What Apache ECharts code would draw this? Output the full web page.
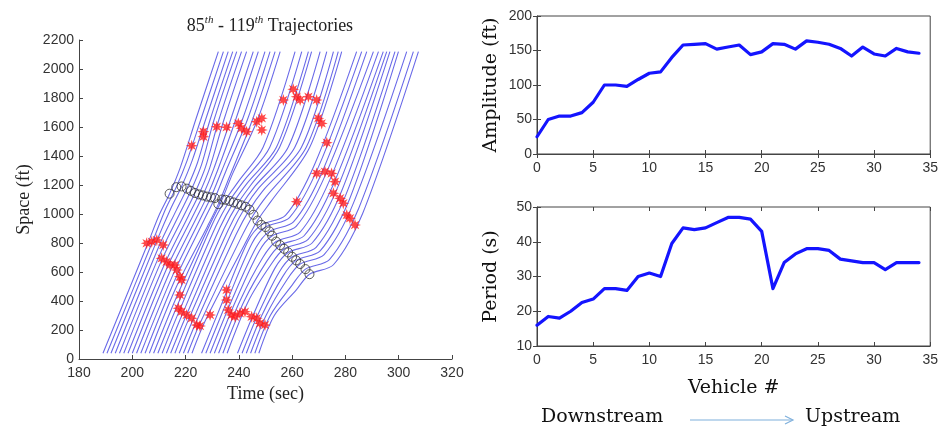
<!DOCTYPE html>
<html>
<head>
<meta charset="utf-8">
<script src="https://cdn.jsdelivr.net/npm/echarts@6/dist/echarts.min.js"></script>
<style>
html,body{margin:0;padding:0;background:#fff;}
#c{width:941px;height:433px;}
</style>
</head>
<body>
<div id="c"></div>
<script>
// ---------------- Left panel: vehicle trajectories (time in s, space in ft) ----------------
const START_S = 40;
const END_S = 2120;
const startT = [189.0,190.5,192.0,193.6,195.2,196.8,198.4,200.0,201.6,203.2,204.8,206.4,208.0,
  209.6,211.2,212.8,214.4,216.0,217.6,219.2,220.8,222.4,
  226.0,227.6,229.2,230.8,232.4,234.0,235.6,239.5,241.2,242.8,244.4,246.0,247.5];
const lowT = [205.9,207.6,209.3,210.3,210.3,211.0,212.0,213.3,214.3,215.0,216.0,216.6,216.9,
  216.7,217.6,218.7,220.0,221.3,222.3,223.5,225.0,227.3,
  234.0,235.6,237.2,238.8,240.4,242.0,243.6,245.3,247.0,248.6,250.2,251.8,253.3];
const lowS = [800,810,820,790,720,680,650,640,610,570,545,500,440,
  360,330,305,290,280,250,235,230,260,
  400,400,400,400,400,400,400,300,300,300,300,300,300];
const preT = [210.0,212.5,214.5,216.5,218.0,219.5,221.0,222.5,224.0,225.5,227.0,228.3,229.7,
  230.0,231.5,233.0,234.5,236.0,237.5,239.0,240.5,242.0,
  243.5,245.0,246.5,247.5,249.0,250.5,252.0,253.5,255.0,256.5,258.0,260.0,261.5];
const preS = [990,1035,1040,1025,1010,995,985,978,970,965,960,918,950,
  928,920,910,900,890,880,860,825,785,
  815,800,770,740,700,675,650,625,595,570,545,510,475];
const circT = [214.0,216.5,218.5,220.5,222.0,223.5,225.0,226.5,228.0,229.5,231.0,232.3,233.7,
  235.0,236.5,238.0,239.5,241.0,242.5,244.0,245.5,247.0,
  248.5,250.0,251.5,252.5,254.0,255.5,257.0,258.5,260.0,261.5,263.0,265.0,266.5];
const circS = [1140,1185,1190,1175,1160,1145,1135,1128,1120,1115,1110,1068,1100,
  1098,1090,1080,1070,1060,1050,1030,995,955,
  925,910,880,850,810,785,760,735,705,680,655,620,585];
const postT = [218.0,220.5,222.5,224.5,226.0,227.5,229.0,230.5,232.0,233.5,235.0,236.3,237.7,
  240.0,241.5,243.0,244.5,246.0,247.5,249.0,250.5,252.0,
  257.5,259.0,260.5,261.5,263.0,264.5,266.0,267.5,269.0,270.5,272.0,274.0,275.5];
const postS = [1320,1365,1370,1355,1340,1325,1315,1308,1300,1295,1290,1248,1280,
  1228,1220,1210,1200,1190,1180,1160,1125,1085,
  990,975,945,915,875,850,825,800,770,745,720,685,650];
const upT = [223.8,225.7,227.5,229.2,230.7,232.5,234.4,236.9,238.8,241.3,243.2,245.1,247.0,
  249.1,251.6,254.1,255.3,258.5,261.0,263.5,265.3,266.6,
  268.5,270.0,271.5,272.5,274.0,275.5,277.0,278.5,280.0,281.5,283.0,285.0,286.5];
const upS = [1650,1650,1650,1650,1650,1650,1650,1650,1650,1650,1650,1650,1650,
  1460,1460,1460,1460,1460,1460,1460,1460,1460,
  1345,1330,1300,1270,1230,1205,1180,1155,1125,1100,1075,1040,1005];
const endT = [232.3,234.2,236.0,237.7,239.2,241.0,242.9,245.4,247.3,249.8,251.7,253.6,255.5,
  261.1,263.6,266.1,267.3,270.5,273.0,275.5,277.3,278.6,
  284.2,286.1,288.0,290.5,292.4,294.2,295.5,296.7,298.6,299.9,303.0,305.5,307.4];

// red star markers
const starT = [205.4,207.3,209.2,211.6,211.0,212.9,214.2,216.0,216.7,217.9,218.5,217.9,217.3,218.5,
  220.4,222.3,224.2,225.4,229.2,235.4,235.4,236.0,237.3,238.6,240.4,242.3,244.8,246.7,247.9,249.8,
  222.3,226.7,226.7,231.7,235.4,239.8,241.0,242.9,246.7,248.6,248.6,256.7,260.4,261.7,263.0,266.1,
  269.2,269.8,271.1,273.0,269.2,272.3,274.8,276.1,275.5,278.0,279.2,280.5,281.7,283.6,261.7];
const starS = [798,809,821,786,694,671,648,648,614,568,545,441,350,326,
  303,281,234,228,303,476,407,338,303,292,315,326,292,281,246,234,
  1471,1568,1533,1602,1598,1625,1591,1568,1637,1660,1579,1786,1860,1809,1786,1809,
  1786,1660,1625,1492,1280,1292,1280,1223,1143,1108,1074,993,970,924,1085];

// ---------------- Right panels ----------------
const vehicle = [0,1,2,3,4,5,6,7,8,9,10,11,12,13,14,15,16,17,18,19,20,21,22,23,24,25,26,27,28,29,30,31,32,33,34];
const amplitude = [25,50,55,55,60,75,100,100,98,108,117,119,140,158,159,160,152,155,158,144,148,160,159,152,164,162,159,153,142,155,145,142,153,148,146];
const period = [16,18.5,18,20,22.5,23.5,26.5,26.5,26,30,31,30,39.5,44,43.5,44,45.5,47,47,46.5,43,26.5,34,36.5,38,38,37.5,35,34.5,34,34,32,34,34,34];

// ---------------- styles ----------------
const SANS = "'Liberation Sans', Arial, sans-serif";
const SERIF = "'Liberation Serif', 'Times New Roman', serif";
const SERIF2 = "'DejaVu Serif', serif";

function starPath(){
  const pts = [];
  for (let i = 0; i < 16; i++) {
    const a = i * Math.PI / 8 - Math.PI / 2;
    const r = (i % 2 === 0) ? 10 : 4.6;
    pts.push((r * Math.cos(a)).toFixed(2) + ' ' + (r * Math.sin(a)).toFixed(2));
  }
  return 'path://M' + pts.join(' L') + ' Z';
}

const chart = echarts.init(document.getElementById('c'), null, {renderer: 'canvas'});

const series = [];
for (let k = 0; k < startT.length; k++) {
  series.push({
    type: 'line', xAxisIndex: 0, yAxisIndex: 0,
    data: [[startT[k], START_S], [lowT[k], lowS[k]], [preT[k], preS[k]], [circT[k], circS[k]],
           [postT[k], postS[k]], [upT[k], upS[k]], [endT[k], END_S]],
    smooth: 0.3, showSymbol: false, silent: true,
    lineStyle: {width: 1.1, color: '#6a6ae8'}, z: 2
  });
}
series.push({
  type: 'scatter', xAxisIndex: 0, yAxisIndex: 0, silent: true,
  data: circT.map((t, i) => [t, circS[i]]),
  symbol: 'circle', symbolSize: 9,
  itemStyle: {color: 'rgba(0,0,0,0)', borderColor: '#333', borderWidth: 1}, z: 3
});
series.push({
  type: 'scatter', xAxisIndex: 0, yAxisIndex: 0, silent: true,
  data: starT.map((t, i) => [t, starS[i]]),
  symbol: starPath(), symbolSize: 12,
  itemStyle: {color: '#ff1a1a'}, z: 4
});
series.push({
  type: 'line', xAxisIndex: 1, yAxisIndex: 1,
  data: vehicle.map((v, i) => [v, amplitude[i]]),
  showSymbol: false, lineStyle: {width: 3.2, color: '#1414ff', join: 'round', cap: 'round'}, z: 3
});
series.push({
  type: 'line', xAxisIndex: 2, yAxisIndex: 2,
  data: vehicle.map((v, i) => [v, period[i]]),
  showSymbol: false, lineStyle: {width: 3.2, color: '#1414ff', join: 'round', cap: 'round'}, z: 3
});

const plain = v => String(v);
const tickLabel = {fontFamily: SANS, fontSize: 14, color: '#333', formatter: plain};
const axisLineStyle = {show: true, onZero: false, lineStyle: {color: '#444', width: 1}};
const tickIn = {show: true, inside: true, length: 4, lineStyle: {color: '#444'}};

const option = {
  animation: false,
  backgroundColor: '#ffffff',
  title: {
    text: '{b|85}{s|th}{b| - 119}{s|th}{b| Trajectories}',
    left: 265, top: 10, textAlign: 'center',
    textStyle: {
      fontWeight: 'normal',
      rich: {
        b: {fontFamily: SERIF, fontSize: 18, fontWeight: 'normal', color: '#222', lineHeight: 22},
        s: {fontFamily: SERIF, fontSize: 11, fontWeight: 'normal', fontStyle: 'italic', color: '#222', verticalAlign: 'top', lineHeight: 22}
      }
    }
  },
  grid: [
    {left: 79, top: 40, width: 373, height: 319},
    {left: 537, top: 16, width: 394, height: 138, show: true, borderColor: '#444', borderWidth: 1, backgroundColor: 'rgba(0,0,0,0)'},
    {left: 537, top: 207, width: 394, height: 139, show: true, borderColor: '#444', borderWidth: 1, backgroundColor: 'rgba(0,0,0,0)'}
  ],
  xAxis: [
    {gridIndex: 0, type: 'value', min: 180, max: 320, interval: 20,
     axisLine: axisLineStyle, axisTick: tickIn, splitLine: {show: false},
     axisLabel: Object.assign({margin: 7}, tickLabel),
     name: 'Time (sec)', nameLocation: 'middle', nameGap: 25,
     nameTextStyle: {fontFamily: SERIF, fontSize: 18, color: '#222'}},
    {gridIndex: 1, type: 'value', min: 0, max: 35, interval: 5,
     axisLine: axisLineStyle, axisTick: tickIn, splitLine: {show: false},
     axisLabel: Object.assign({margin: 7}, tickLabel)},
    {gridIndex: 2, type: 'value', min: 0, max: 35, interval: 5,
     axisLine: axisLineStyle, axisTick: tickIn, splitLine: {show: false},
     axisLabel: Object.assign({margin: 7}, tickLabel),
     name: 'Vehicle #', nameLocation: 'middle', nameGap: 33,
     nameTextStyle: {fontFamily: SERIF2, fontSize: 19, color: '#111'}},
    {gridIndex: 1, type: 'value', position: 'top', min: 0, max: 35, interval: 5,
     axisLine: {show: false}, axisTick: tickIn, axisLabel: {show: false}, splitLine: {show: false}},
    {gridIndex: 2, type: 'value', position: 'top', min: 0, max: 35, interval: 5,
     axisLine: {show: false}, axisTick: tickIn, axisLabel: {show: false}, splitLine: {show: false}}
  ],
  yAxis: [
    {gridIndex: 0, type: 'value', min: 0, max: 2200, interval: 200,
     axisLine: axisLineStyle, axisTick: tickIn, splitLine: {show: false},
     axisLabel: Object.assign({margin: 5}, tickLabel),
     name: 'Space (ft)', nameLocation: 'middle', nameGap: 46, nameRotate: 90,
     nameTextStyle: {fontFamily: SERIF, fontSize: 18, color: '#222'}},
    {gridIndex: 1, type: 'value', min: 0, max: 200, interval: 50,
     axisLine: axisLineStyle, axisTick: tickIn, splitLine: {show: false},
     axisLabel: Object.assign({margin: 5}, tickLabel),
     name: 'Amplitude (ft)', nameLocation: 'middle', nameGap: 36, nameRotate: 90,
     nameTextStyle: {fontFamily: SERIF2, fontSize: 19, color: '#111'}},
    {gridIndex: 2, type: 'value', min: 10, max: 50, interval: 10,
     axisLine: axisLineStyle, axisTick: tickIn, splitLine: {show: false},
     axisLabel: Object.assign({margin: 5}, tickLabel),
     name: 'Period (s)', nameLocation: 'middle', nameGap: 36, nameRotate: 90,
     nameTextStyle: {fontFamily: SERIF2, fontSize: 19, color: '#111'}},
    {gridIndex: 1, type: 'value', position: 'right', min: 0, max: 200, interval: 50,
     axisLine: {show: false}, axisTick: tickIn, axisLabel: {show: false}, splitLine: {show: false}},
    {gridIndex: 2, type: 'value', position: 'right', min: 10, max: 50, interval: 10,
     axisLine: {show: false}, axisTick: tickIn, axisLabel: {show: false}, splitLine: {show: false}}
  ],
  graphic: [
    {type: 'text', left: 541, top: 408,
     style: {text: 'Downstream', fontFamily: SERIF2, fontSize: 19, fill: '#111'}},
    {type: 'text', left: 805, top: 408,
     style: {text: 'Upstream', fontFamily: SERIF2, fontSize: 19, fill: '#111'}},
    {type: 'line', shape: {x1: 690, y1: 420, x2: 792, y2: 420},
     style: {stroke: '#7fb0dc', lineWidth: 1.2}},
    {type: 'polyline', shape: {points: [[785, 416], [793, 420], [785, 424]]},
     style: {stroke: '#7fb0dc', lineWidth: 1.2, fill: null}}
  ],
  series: series
};
chart.setOption(option);
</script>
</body>
</html>
